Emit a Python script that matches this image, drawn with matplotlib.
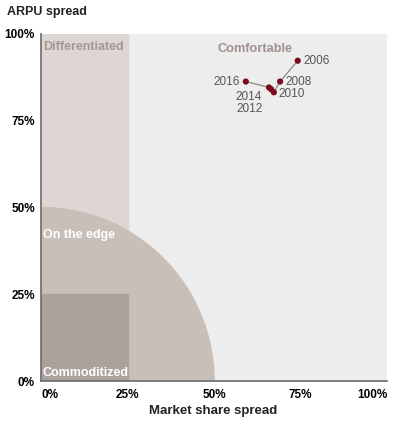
import matplotlib
matplotlib.use("Agg")
import matplotlib.pyplot as plt
from matplotlib.patches import Rectangle, Wedge

plt.rcParams['font.family'] = ['Liberation Sans', 'DejaVu Sans']

years = ["2006", "2008", "2010", "2012", "2014", "2016"]
market_share = [0.742, 0.691, 0.673, 0.665, 0.659, 0.592]
arpu = [0.923, 0.863, 0.832, 0.841, 0.846, 0.863]
tick_vals = [0, 0.25, 0.5, 0.75, 1.0]
tick_labels = ["0%", "25%", "50%", "75%", "100%"]

W, H = 397, 429
fig = plt.figure(figsize=(W/100, H/100), dpi=100)
ax = fig.add_axes([41/W, 1-381/H, 346/W, 347/H])
ax.set_xlim(0, 1)
ax.set_ylim(0, 1)

ax.add_patch(Rectangle((0, 0), 1, 1, color="#ededed", zorder=0))
ax.add_patch(Rectangle((0, 0), 0.25, 1, color="#ddd6d3", zorder=1))
ax.add_patch(Wedge((0, 0), 0.5, 0, 90, color="#c8bfb9", zorder=2))
ax.add_patch(Rectangle((0, 0), 0.25, 0.25, color="#aca29d", zorder=3))

for s in ["top", "right"]:
    ax.spines[s].set_visible(False)
for s in ["left", "bottom"]:
    ax.spines[s].set_color("#6b6b6b")
    ax.spines[s].set_linewidth(1.2)
    ax.spines[s].set_zorder(6)

ax.set_xticks(tick_vals)
ax.set_xticklabels(tick_labels, fontsize=8.5, fontweight="bold")
ax.set_yticks(tick_vals)
ax.set_yticklabels(tick_labels, fontsize=8.5, fontweight="bold")
ax.tick_params(length=0)
ax.tick_params(axis="y", pad=4.5)
ax.tick_params(axis="x", pad=6)
xl = ax.get_xticklabels()
xl[0].set_ha("left")
xl[-1].set_ha("right")

ax.plot(market_share, arpu, color="#8a8a8a", lw=0.9, zorder=7)
ax.scatter(market_share, arpu, s=20, color="#7a0a1e", zorder=8, edgecolors="none")

tc = "#555555"
fs = 8.5
ax.annotate("2006", (market_share[0], arpu[0]), xytext=(4, 0), textcoords="offset points", va="center", ha="left", fontsize=fs, color=tc, zorder=9)
ax.annotate("2008", (market_share[1], arpu[1]), xytext=(4, 0), textcoords="offset points", va="center", ha="left", fontsize=fs, color=tc, zorder=9)
ax.annotate("2010", (market_share[2], arpu[2]), xytext=(3, -1), textcoords="offset points", va="center", ha="left", fontsize=fs, color=tc, zorder=9)
ax.annotate("2016", (market_share[5], arpu[5]), xytext=(-4, 0), textcoords="offset points", va="center", ha="right", fontsize=fs, color=tc, zorder=9)
ax.annotate("2014", (market_share[4], arpu[4]), xytext=(-5, -7), textcoords="offset points", va="center", ha="right", fontsize=fs, color=tc, zorder=9)
ax.annotate("2012", (market_share[3], arpu[3]), xytext=(-6, -14.5), textcoords="offset points", va="center", ha="right", fontsize=fs, color=tc, zorder=9)

ax.text(0.005, 0.98, "Differentiated", fontsize=9, fontweight="bold", color="#a39892", va="top", ha="left", zorder=9)
ax.text(0.62, 0.975, "Comfortable", fontsize=9.2, fontweight="bold", color="#9c918b", va="top", ha="center", zorder=9)
ax.text(0.005, 0.42, "On the edge", fontsize=9, fontweight="bold", color="white", va="center", ha="left", zorder=9)
ax.text(0.005, 0.005, "Commoditized", fontsize=9, fontweight="bold", color="white", va="bottom", ha="left", zorder=9)

fig.text(7/W, 1-12/H, "ARPU spread", fontsize=9, fontweight="bold", color="#222222", va="center", ha="left")
fig.text(213/W, 1-411/H, "Market share spread", fontsize=9.5, fontweight="bold", color="#222222", va="center", ha="center")

fig.savefig("out.png", dpi=100)
